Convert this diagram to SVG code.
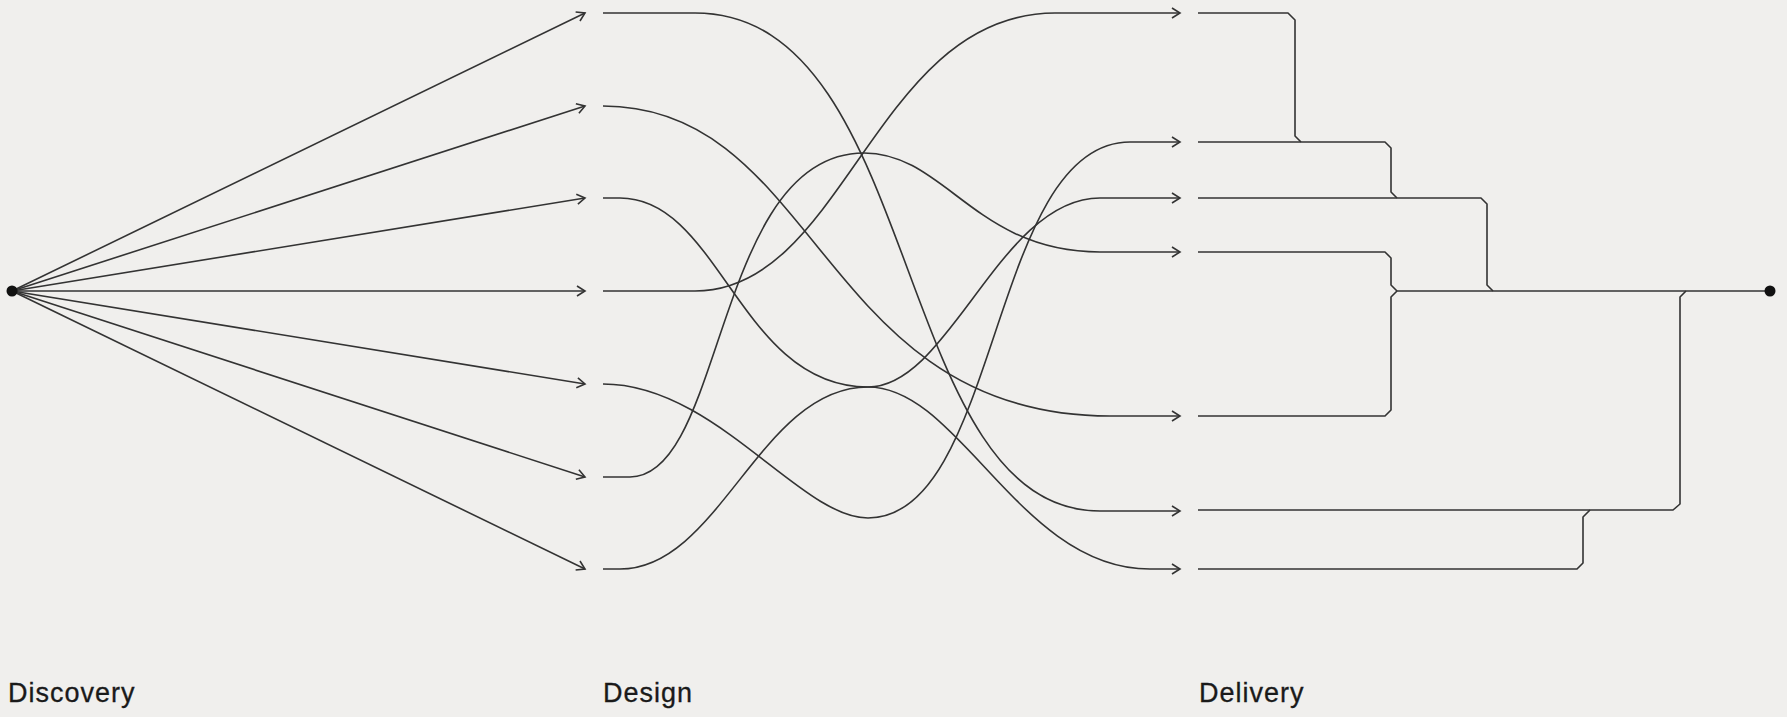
<svg xmlns="http://www.w3.org/2000/svg" width="1787" height="717" viewBox="0 0 1787 717">
  <style>
    .ln { fill: none; stroke: #333; stroke-width: 1.6; stroke-linejoin: round; }
    .arr { marker-end: url(#chev); }
    .lbl { font-family: "Liberation Sans", Arial, sans-serif; font-size: 27px; letter-spacing: 1px; fill: #1a1a1a; stroke: #1a1a1a; stroke-width: 0.3; }
    .dot { fill: #111; }
  </style>
  <defs>
    <marker id="chev" viewBox="-10 -7 12 14" markerWidth="12" markerHeight="14" refX="0" refY="0" orient="auto" markerUnits="userSpaceOnUse">
      <path d="M-8,-5 L0,0 L-8,5" fill="none" stroke="#333" stroke-width="1.6" stroke-linejoin="miter"/>
    </marker>
  </defs>
  <rect x="0" y="0" width="1787" height="717" fill="#f0efed"/>

  <g id="connectors">
    <!-- fan from discovery to design -->
    <g id="fan">
      <path class="ln arr" d="M12,291 L585,13"/>
      <path class="ln arr" d="M12,291 L585,106"/>
      <path class="ln arr" d="M12,291 L585,198"/>
      <path class="ln arr" d="M12,291 L585,291"/>
      <path class="ln arr" d="M12,291 L585,384"/>
      <path class="ln arr" d="M12,291 L585,477"/>
      <path class="ln arr" d="M12,291 L585,569"/>
    </g>
    <!-- design to delivery curves -->
    <g id="curves">
      <path class="ln arr" d="M603,13 H695 C925,13 890,511 1100,511 H1180"/>
      <path class="ln arr" d="M603,106 C820,106 820,416 1110,416 H1180"/>
      <path class="ln" d="M603,198 H620 C720,198 740,387 868,387"/>
      <path class="ln arr" d="M603,291 H695 C845,291 875,13 1055,13 H1180"/>
      <path class="ln" d="M603,384 C715,384 800,518 868,518"/>
      <path class="ln" d="M603,477 H630 C725,477 715,153 864,153"/>
      <path class="ln" d="M603,569 H620 C720,569 760,387 868,387"/>
      <path class="ln arr" d="M864,153 C945,153 975,252 1100,252 H1180"/>
      <path class="ln arr" d="M868,387 C950,387 1000,198 1100,198 H1180"/>
      <path class="ln arr" d="M868,387 C960,387 1020,569 1150,569 H1180"/>
      <path class="ln arr" d="M868,518 C1000,518 990,142 1130,142 H1180"/>
    </g>
    <!-- delivery merge brackets -->
    <g id="brackets">
      <path class="ln" d="M1198,13 H1288 L1295,20 V136 L1301,142"/>
      <path class="ln" d="M1198,142 H1385 L1391,148 V192 L1397,198"/>
      <path class="ln" d="M1198,198 H1481 L1487,204 V285 L1493,291"/>
      <path class="ln" d="M1198,252 H1385 L1391,258 V285 L1397,291"/>
      <path class="ln" d="M1198,416 H1385 L1391,410 V297 L1397,291"/>
      <path class="ln" d="M1198,510 H1673 L1680,504 V297 L1686,291"/>
      <path class="ln" d="M1198,569 H1577 L1583,563 V517 L1590,510"/>
      <path class="ln" d="M1397,291 H1770"/>
    </g>
  </g>

  <g id="discovery">
    <circle class="dot" cx="12" cy="291" r="5.5"/>
    <text class="lbl" x="8" y="702">Discovery</text>
  </g>
  <g id="design">
    <text class="lbl" x="603" y="702">Design</text>
  </g>
  <g id="delivery">
    <text class="lbl" x="1199" y="702">Delivery</text>
  </g>
  <g id="end">
    <circle class="dot" cx="1770" cy="291" r="5.5"/>
  </g>
</svg>
